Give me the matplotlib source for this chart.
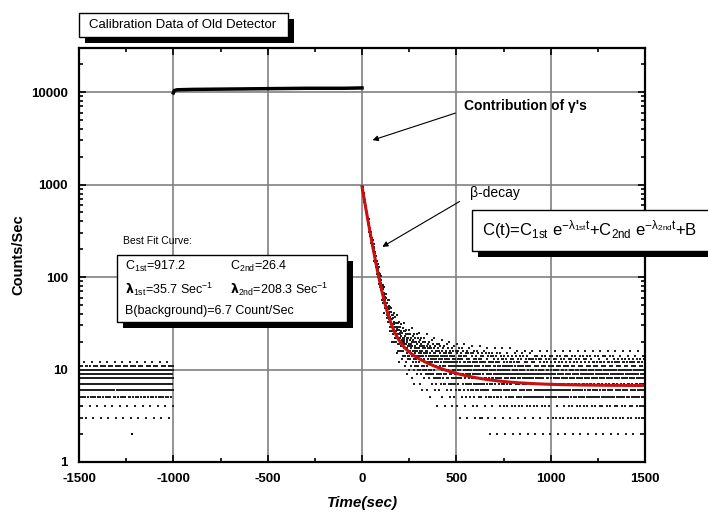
import numpy as np
import matplotlib.pyplot as plt
from matplotlib.patches import Rectangle
from matplotlib.ticker import FixedLocator, LogLocator, NullFormatter, FuncFormatter

plt.rcParams['font.family'] = ['Liberation Sans', 'DejaVu Sans']
plt.rcParams['mathtext.default'] = 'regular'
plt.rcParams['axes.unicode_minus'] = False

# fit parameters written on the chart
c_1st = 917.2
c_2nd = 26.4
tau_1st = 35.7
tau_2nd = 208.3
background = 6.7

# background counts before the source (-1500..-1000 s, one per second)
bg_pattern = [8, 10, 6, 9, 7, 11, 5, 8, 9, 7, 10, 6, 8, 6, 9, 7, 11, 4, 8, 10,
              6, 9, 7, 5, 10, 8, 7, 9, 6, 12, 8, 9, 5, 10, 7, 3, 9, 8, 11, 6]
bg_low_t = [-1220]
bg_low = [2]

# counts while the gamma source is on (-1000..0 s)
plateau_t = [-1000, -995, -980, -900, -700, -500, -300, -100, 0]
plateau_counts = [9800, 10400, 10600, 10700, 10800, 10900, 11000, 11000, 11100]

# spread of the decay points round the fit, in sqrt(counts)
decay_spread = [0.3, 1.2, -0.8, 2.1, 0.6, -0.4, 1.6, -0.3, 0.9, 2.8,
                -1.3, 0.2, 1.4, -0.6, 0.7, 0.1, 2.4, -0.5, 1.0, -0.9,
                0.5, 1.1, 1.9, 3.4, -0.2, 0.8, -1.6, 1.3, 0.4, 2.2,
                -0.7, 0.0, 1.7, -1.1, 0.6, 2.6, -0.4, 1.5, -1.9, 0.9]

x_ticks = [-1500, -1000, -500, 0, 500, 1000, 1500]

W, H = 708, 516
fig = plt.figure(figsize=(W / 100, H / 100), dpi=100)
ax = fig.add_axes([79 / W, 1 - 462 / H, (645 - 79) / W, (462 - 48) / H])

# background
t_bg = np.arange(-1500, -999)
ax.plot(t_bg, np.resize(bg_pattern, len(t_bg)), 's', ms=1.5, mew=0, color='#222222')
ax.plot(bg_low_t, bg_low, 's', ms=1.8, mew=0, color='black')

# source on
ax.plot(plateau_t, plateau_counts, '-', lw=2.5, color='black')

# decay after the source is removed
t = np.arange(0, 1501)
fit = c_1st * np.exp(-t / tau_1st) + c_2nd * np.exp(-t / tau_2nd) + background
counts = np.round(fit + np.resize(decay_spread, len(t)) * np.sqrt(fit))
keep = counts >= 1
ax.plot(t[keep], counts[keep], 's', ms=1.5, mew=0, color='#222222')
ax.plot(t, fit, '-', lw=2.2, color='#c81010')

ax.set_yscale('log')
ax.set_xlim(-1500, 1500)
ax.set_ylim(1, 30000)
ax.xaxis.set_major_locator(FixedLocator(x_ticks))
ax.xaxis.set_minor_locator(FixedLocator(np.arange(-1500, 1501, 250)))
ax.yaxis.set_major_locator(LogLocator(base=10))
ax.yaxis.set_minor_locator(LogLocator(base=10, subs=np.arange(2, 10)))
ax.yaxis.set_minor_formatter(NullFormatter())
ax.yaxis.set_major_formatter(FuncFormatter(lambda v, p: '%d' % v))
ax.grid(True, which='major', color='#808080', lw=1.2)
ax.tick_params(which='both', direction='in', top=True, right=True, width=1.2)
ax.tick_params(which='major', length=5, labelsize=9.5, pad=8)
ax.tick_params(which='minor', length=3)
for lab in ax.get_xticklabels() + ax.get_yticklabels():
    lab.set_fontweight('bold')
for sp in ax.spines.values():
    sp.set_linewidth(1.6)

ax.set_xlabel('Time(sec)', fontsize=11, fontweight='bold', style='italic', labelpad=8)
ax.set_ylabel('Counts/Sec', fontsize=10.5, fontweight='bold', labelpad=4)

# arrows
ax.annotate('', xy=(42, 2960), xytext=(509, 6060),
            arrowprops=dict(arrowstyle='-|>', lw=0.8, color='black', mutation_scale=8))
ax.annotate('', xy=(95, 205), xytext=(530, 680),
            arrowprops=dict(arrowstyle='-|>', lw=0.8, color='black', mutation_scale=8))


def px(x, y):
    return x / W, 1 - y / H


def shadow_box(x0, y0, x1, y1, off=6):
    fig.patches.append(Rectangle(px(x0 + off, y1 + off), (x1 - x0) / W, (y1 - y0) / H,
                                 transform=fig.transFigure, facecolor='black',
                                 edgecolor='none', zorder=5))
    fig.patches.append(Rectangle(px(x0, y1), (x1 - x0) / W, (y1 - y0) / H,
                                 transform=fig.transFigure, facecolor='white',
                                 edgecolor='black', lw=1, zorder=6))


shadow_box(79, 13, 288, 37)
fig.text(*px(89, 25), 'Calibration Data of Old Detector', fontsize=9.5,
         va='center', ha='left', zorder=7)

fig.text(*px(464, 106), "Contribution of \u03b3's", fontsize=10, fontweight='bold',
         va='center', ha='left', zorder=7)
fig.text(*px(470, 193), '\u03b2-decay', fontsize=10, va='center', ha='left', zorder=7)

shadow_box(472, 210, 712, 251)
fig.text(*px(482, 230),
         r'C(t)=C$_{1st}$ e$^{-\lambda_{1st} t}$+C$_{2nd}$ e$^{-\lambda_{2nd} t}$+B',
         fontsize=12, va='center', ha='left', zorder=7)

fig.text(*px(123, 241), 'Best Fit Curve:', fontsize=7.5, va='center', ha='left', zorder=7)
shadow_box(117, 255, 347, 322)
fig.text(*px(125, 266), r'C$_{1st}$=917.2', fontsize=9, va='center', zorder=7)
fig.text(*px(230, 266), r'C$_{2nd}$=26.4', fontsize=9, va='center', zorder=7)
fig.text(*px(125, 289), r'$\mathbf{\lambda}_{1st}$=35.7 Sec$^{-1}$', fontsize=9,
         va='center', zorder=7)
fig.text(*px(230, 289), r'$\mathbf{\lambda}_{2nd}$=208.3 Sec$^{-1}$', fontsize=9,
         va='center', zorder=7)
fig.text(*px(125, 311), 'B(background)=6.7 Count/Sec', fontsize=9, va='center', zorder=7)

fig.savefig('out.png', dpi=100)
